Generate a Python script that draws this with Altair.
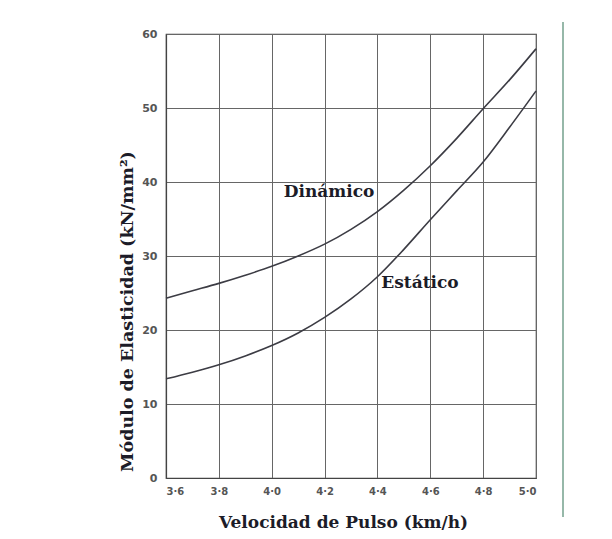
import altair as alt
import pandas as pd

velocidad = [3.6, 3.7, 3.8, 3.9, 4.0, 4.1, 4.2, 4.3, 4.4, 4.5, 4.6, 4.7, 4.8, 4.9, 5.0]
dinamico = [24.3, 25.3, 26.3, 27.4, 28.6, 30.0, 31.6, 33.6, 36.0, 38.9, 42.2, 45.9, 49.9, 53.8, 58.0]
estatico = [13.4, 14.3, 15.3, 16.5, 17.9, 19.6, 21.7, 24.2, 27.2, 30.9, 34.9, 38.8, 42.7, 47.4, 52.3]

label_names = ["Dinámico", "Estático"]
label_x = [4.217, 4.561]
label_y = [38.6, 26.35]

x_ticks = [3.6, 3.8, 4.0, 4.2, 4.4, 4.6, 4.8, 5.0]
y_ticks = [0, 10, 20, 30, 40, 50, 60]

df = pd.DataFrame({
    "v": velocidad * 2,
    "e": dinamico + estatico,
    "serie": ["Dinámico"] * len(velocidad) + ["Estático"] * len(velocidad),
})
labels = pd.DataFrame({"name": label_names, "x": label_x, "y": label_y})

serif = "DejaVu Serif"
xscale = alt.Scale(domain=[3.6, 5.0], nice=False, zero=False)
yscale = alt.Scale(domain=[0, 60], nice=False)

xaxis = alt.Axis(
    values=x_ticks,
    labelExpr="replace(format(datum.value, '.1f'), '.', '·')",
    grid=True, gridColor="#666666", gridWidth=1, gridOpacity=1,
    domainColor="#444444", domainWidth=1.2,
    ticks=False, labelPadding=8,
    labelFont="DejaVu Sans", labelFontSize=10, labelColor="#555555", labelFontWeight="bold",
    title="Velocidad de Pulso (km/h)",
    titleFont=serif, titleFontSize=17, titleFontWeight="bold", titleColor="#1c1c28",
    titleX=177, titleY=44, titleAlign="center", titleBaseline="middle",
)
yaxis = alt.Axis(
    values=y_ticks,
    grid=True, gridColor="#666666", gridWidth=1, gridOpacity=1,
    domainColor="#444444", domainWidth=1.2,
    ticks=False, labelPadding=9,
    labelFont="DejaVu Sans", labelFontSize=11, labelColor="#555555", labelFontWeight="bold",
    title="Módulo de Elasticidad (kN/mm²)",
    titleFont=serif, titleFontSize=17.5, titleFontWeight="bold", titleColor="#1c1c28",
    titleAngle=-90, titleX=-39, titleY=277, titleAlign="center", titleBaseline="middle",
)

lines = alt.Chart(df).mark_line(color="#3c3c44", strokeWidth=1.6, interpolate="monotone").encode(
    x=alt.X("v:Q", scale=xscale, axis=xaxis),
    y=alt.Y("e:Q", scale=yscale, axis=yaxis),
    detail="serie:N",
)

texts = alt.Chart(labels).mark_text(
    font=serif, fontSize=17, fontWeight="bold", color="#1c1c28"
).encode(
    x=alt.X("x:Q", scale=xscale),
    y=alt.Y("y:Q", scale=yscale),
    text="name:N",
)

green = alt.Chart(labels).mark_rule(color="#8fb3a3", strokeWidth=1.5).encode(
    x=alt.value(397), y=alt.value(-12), y2=alt.value(483)
)

chart = alt.layer(lines, texts, green).properties(
    width=370, height=444,
    padding={"left": 158, "top": 26, "right": 66, "bottom": 52},
    autosize=alt.AutoSizeParams(type="none"),
    background="white",
).configure_view(stroke="#444444", strokeWidth=1.2)

chart.save("out.html", embed_options={"renderer": "svg", "actions": False})
